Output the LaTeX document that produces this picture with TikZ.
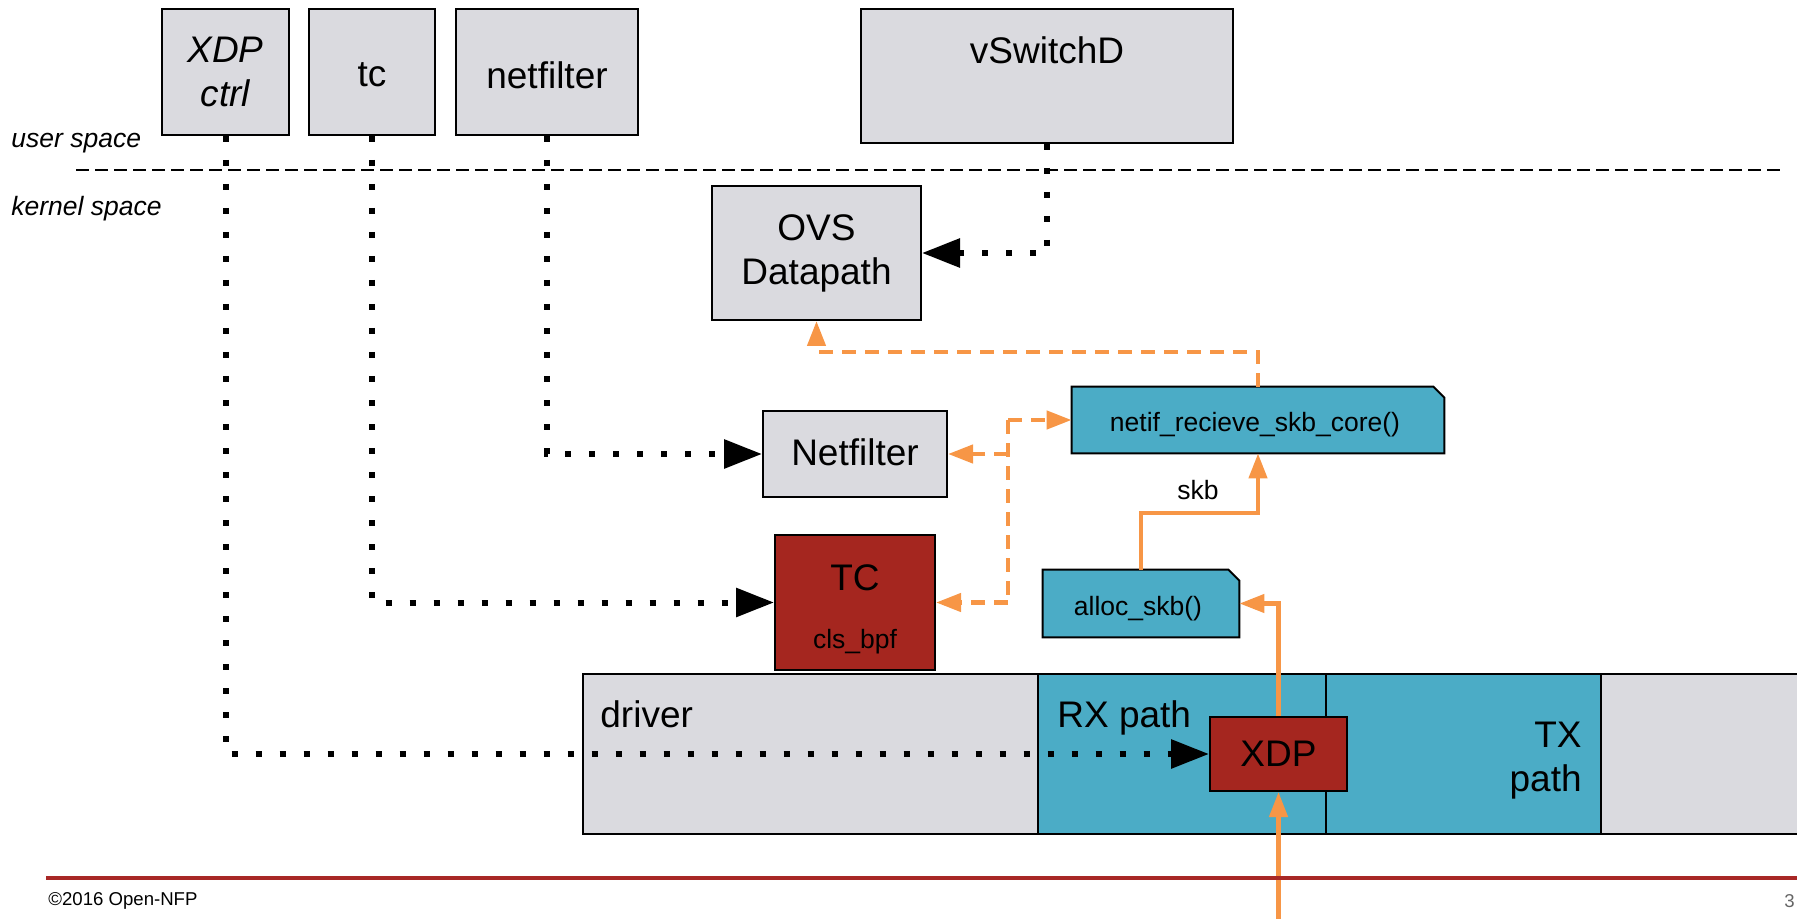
\documentclass[tikz,border=0pt]{standalone}
\usepackage{fontspec}
\setmainfont{Liberation Sans}
\usetikzlibrary{arrows.meta,calc,backgrounds}
\definecolor{boxgray}{RGB}{218,218,223}
\definecolor{nfpblue}{RGB}{75,172,198}
\definecolor{nfpred}{RGB}{165,38,31}
\definecolor{nfporange}{RGB}{247,150,70}
\definecolor{footred}{RGB}{168,40,38}
\newcommand\bigfnt{\fontsize{18.5}{22}\selectfont}
\newcommand\smallfnt{\fontsize{13.25}{16}\selectfont}
\newcommand\footfnt{\fontsize{9.3}{11}\selectfont}
\begin{document}
\begin{tikzpicture}[x=0.5pt,y=-0.5pt,
  box/.style={draw=black,line width=1pt,fill=boxgray,inner sep=0pt,font=\bigfnt,align=center},
  redbox/.style={box,fill=nfpred},
  fn/.style={inner sep=0pt,font=\smallfnt},
  lbl/.style={inner sep=0pt,font=\bigfnt},
  dotarrow/.style={line width=3pt,dash pattern=on 3.2pt off 8.8pt,-{Triangle[length=19pt,width=14pt]}},
  odash/.style={nfporange,line width=2.2pt,dash pattern=on 7pt off 4.5pt},
  osolid/.style={nfporange,line width=2.2pt},
  otip/.style={-{Triangle[length=12.5pt,width=9pt]}}
]
\useasboundingbox (0,0) rectangle (1797,919);

% user / kernel separation
\node[inner sep=0pt,font=\smallfnt\itshape,anchor=west] (us) at (11,143.5) {user space};
\node[inner sep=0pt,font=\smallfnt\itshape,anchor=west] (ks) at (11,208.5) {kernel space};
\coordinate (sepl) at (76,170);
\coordinate (sepr) at (1784,170);
\draw[line width=1.2pt,dash pattern=on 6.25pt off 3.25pt] (sepl) -- (sepr);

% user space boxes
\node[box,font=\bigfnt\itshape,minimum width=63.5pt,minimum height=63pt,text depth=0pt] (xdpctrl) at (225.5,72) {XDP\\ctrl};
\node[box,minimum width=63pt,minimum height=63pt] (tc) at (372,72) {};
\node[lbl] (tclbl2) at (372,75) {tc};
\node[box,minimum width=91pt,minimum height=63pt] (netfilter) at (547,72) {};
\node[lbl] (nflbl) at (547,75) {netfilter};
\node[box,minimum width=186pt,minimum height=67pt] (vswitchd) at (1047,76) {};
\node[lbl] (vswlbl) at (1047,50) {vSwitchD};

% kernel boxes
\node[box,minimum width=104.5pt,minimum height=67pt] (ovs) at (816.5,253) {OVS\\Datapath};
\node[box,minimum width=92pt,minimum height=43pt] (nfk) at (855,454) {};
\node[lbl] (nfklbl) at (855,452) {Netfilter};
\node[redbox,minimum width=80pt,minimum height=67.5pt] (tck) at (855,602.5) {};
\node[lbl] (tclbl) at (855,578) {TC};
\node[fn] (clslbl) at (855,641.5) {cls\_bpf};

\node[minimum width=186pt,minimum height=33pt,inner sep=0pt] (netif) at (1258,420) {};
\node[fn] (netiflbl) at (1255,425) {netif\_recieve\_skb\_core()};
\node[minimum width=98pt,minimum height=33.5pt,inner sep=0pt] (alloc) at (1141,603.5) {};
\node[fn] (alloclbl) at (1138,609) {alloc\_skb()};
\begin{scope}[on background layer]
\draw[line width=1pt,fill=nfpblue] (netif.south west) -- (netif.north west) -- ($(netif.north east)+(-11,0)$) -- ($(netif.north east)+(0,11)$) -- (netif.south east) -- cycle;
\draw[line width=1pt,fill=nfpblue] (alloc.south west) -- (alloc.north west) -- ($(alloc.north east)+(-11,0)$) -- ($(alloc.north east)+(0,11)$) -- (alloc.south east) -- cycle;
\end{scope}

% driver bar
\draw[line width=1pt,fill=boxgray] (583,674) rectangle (1810,834);
\draw[line width=0.8pt,fill=nfpblue] (1038,674) rectangle (1326,834);
\draw[line width=0.8pt,fill=nfpblue] (1326,674) rectangle (1601,834);
\draw[line width=1pt] (583,674) -- (1810,674);
\draw[line width=1pt] (583,834) -- (1810,834);
\node[lbl,anchor=base west] (drvlbl) at (600,727) {driver};
\node[lbl,anchor=base west] (rxlbl) at (1057,727) {RX path};
\node[lbl,anchor=east,align=right] (txlbl) at (1582,760.5) {TX\\path};
\node[redbox,minimum width=68.5pt,minimum height=37pt] (xdp) at (1278.5,754) {XDP};

% dotted control arrows
\draw[dotarrow] (xdpctrl.south) |- (xdp.west);
\draw[dotarrow] (tc.south) |- (tck.west);
\draw[dotarrow] (netfilter.south) |- (nfk.west);
\draw[dotarrow] (vswitchd.south) |- (ovs.east);

% orange dashed
\coordinate (ovsturn) at (1258,352);
\draw[odash,otip] (netif.north) -- (ovsturn) -| (ovs.south);
\coordinate (jt) at (1008,420);
\draw[odash] (jt) -- (jt |- tck.east);
\draw[odash,otip] (jt) -- (netif.west);
\draw[odash,otip] (jt |- nfk.east) -- (nfk.east);
\draw[odash,otip] (jt |- tck.east) -- (tck.east);

% orange solid
\coordinate (bot) at (1278.5,919);
\draw[osolid,otip] (bot) -- (xdp.south);
\draw[osolid,otip] (xdp.north) |- (alloc.east);
\coordinate (skbturn) at (1258,513);
\draw[osolid,otip] (alloc.north) |- (skbturn) -- (netif.south);
\node[fn] (skblbl) at (1198,490) {skb};

% footer
\coordinate (fl) at (46,878);
\coordinate (fr) at (1797,878);
\draw[footred,line width=2pt] (fl) -- (fr);
\node[inner sep=0pt,font=\footfnt,anchor=west] (copy) at (48,901) {©2016 Open-NFP};
\node[inner sep=0pt,font=\footfnt,anchor=west,text=black!60] (pg) at (1784,901) {3};
\end{tikzpicture}
\end{document}
